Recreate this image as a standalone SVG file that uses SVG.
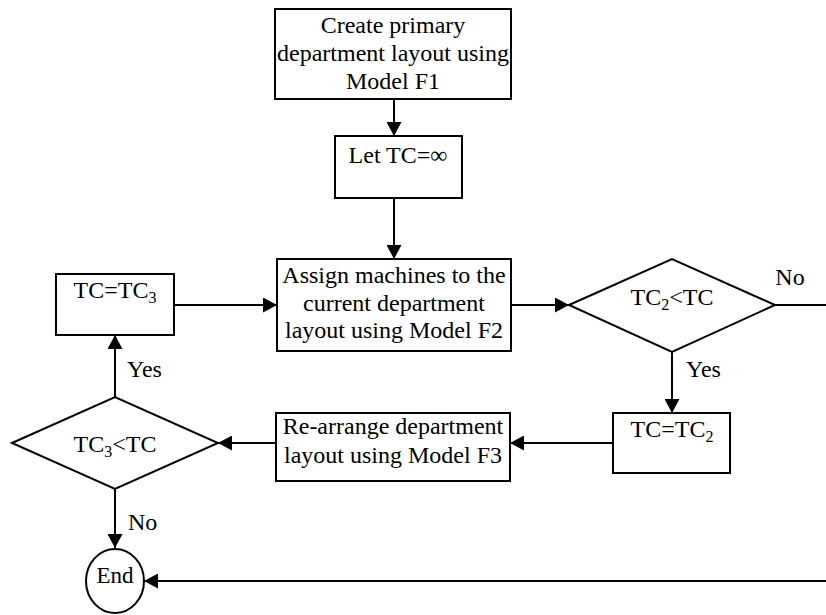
<svg xmlns="http://www.w3.org/2000/svg" width="826" height="615" viewBox="0 0 826 615">
<style>
.s{fill:#fff;stroke:#000;stroke-width:2}
.c{fill:none;stroke:#000;stroke-width:2}
text{font-family:"Liberation Serif","Times New Roman",serif;font-size:24px;fill:#000;text-anchor:middle}
.l{text-anchor:start}
.sub{font-size:16px}
</style>
<defs>
<marker id="a" markerUnits="userSpaceOnUse" markerWidth="15" markerHeight="15" refX="14" refY="7.5" orient="auto">
<path d="M0,0 L14,7.5 L0,15 z" fill="#000"/>
</marker>
</defs>
<rect width="826" height="615" fill="#fff"/>
<g id="connectors">
<line class="c" x1="394" y1="99" x2="394" y2="136" marker-end="url(#a)"/>
<line class="c" x1="394" y1="198" x2="394" y2="259" marker-end="url(#a)"/>
<line class="c" x1="174" y1="305" x2="277" y2="305" marker-end="url(#a)"/>
<line class="c" x1="511" y1="305" x2="569" y2="305" marker-end="url(#a)"/>
<line class="c" x1="775" y1="305" x2="826" y2="305"/>
<line class="c" x1="672" y1="352" x2="672" y2="413" marker-end="url(#a)"/>
<line class="c" x1="613" y1="443" x2="510" y2="443" marker-end="url(#a)"/>
<line class="c" x1="276" y1="443" x2="218" y2="443" marker-end="url(#a)"/>
<line class="c" x1="115" y1="397" x2="115" y2="335" marker-end="url(#a)"/>
<line class="c" x1="115" y1="489" x2="115" y2="548" marker-end="url(#a)"/>
<line class="c" x1="826" y1="581" x2="144" y2="581" marker-end="url(#a)"/>
<text x="790" y="285">No</text>
<text class="l" x="686" y="377">Yes</text>
<text class="l" x="127" y="377">Yes</text>
<text class="l" x="128" y="530">No</text>
</g>
<g id="create">
<rect class="s" x="275" y="9" width="236" height="90"/>
<text x="393" y="33">Create primary</text>
<text x="393" y="61">department layout using</text>
<text x="393" y="89">Model F1</text>
</g>
<g id="letTC">
<rect class="s" x="335" y="136" width="127" height="62"/>
<text x="398" y="163">Let TC=∞</text>
</g>
<g id="assign">
<rect class="s" x="277" y="259" width="234" height="92"/>
<text x="394" y="283">Assign machines to the</text>
<text x="394" y="311">current department</text>
<text x="394" y="338">layout using Model F2</text>
</g>
<g id="tc3box">
<rect class="s" x="56" y="274" width="118" height="61"/>
<text x="115" y="298">TC=TC<tspan class="sub" dy="5">3</tspan></text>
</g>
<g id="dec2">
<polygon class="s" points="569,305 672,259 775,305 672,352"/>
<text x="672" y="305">TC<tspan class="sub" dy="5">2</tspan><tspan dy="-5">&lt;TC</tspan></text>
</g>
<g id="tc2box">
<rect class="s" x="613" y="413" width="117" height="60"/>
<text x="672" y="437">TC=TC<tspan class="sub" dy="5">2</tspan></text>
</g>
<g id="rearrange">
<rect class="s" x="276" y="413" width="234" height="68"/>
<text x="393" y="434">Re-arrange department</text>
<text x="393" y="463">layout using Model F3</text>
</g>
<g id="dec3">
<polygon class="s" points="12,443 115,397 218,443 115,489"/>
<text x="115" y="452">TC<tspan class="sub" dy="5">3</tspan><tspan dy="-5">&lt;TC</tspan></text>
</g>
<g id="end">
<ellipse class="s" cx="115" cy="581" rx="29" ry="32"/>
<text x="115" y="583" style="font-size:23px">End</text>
</g>
</svg>
